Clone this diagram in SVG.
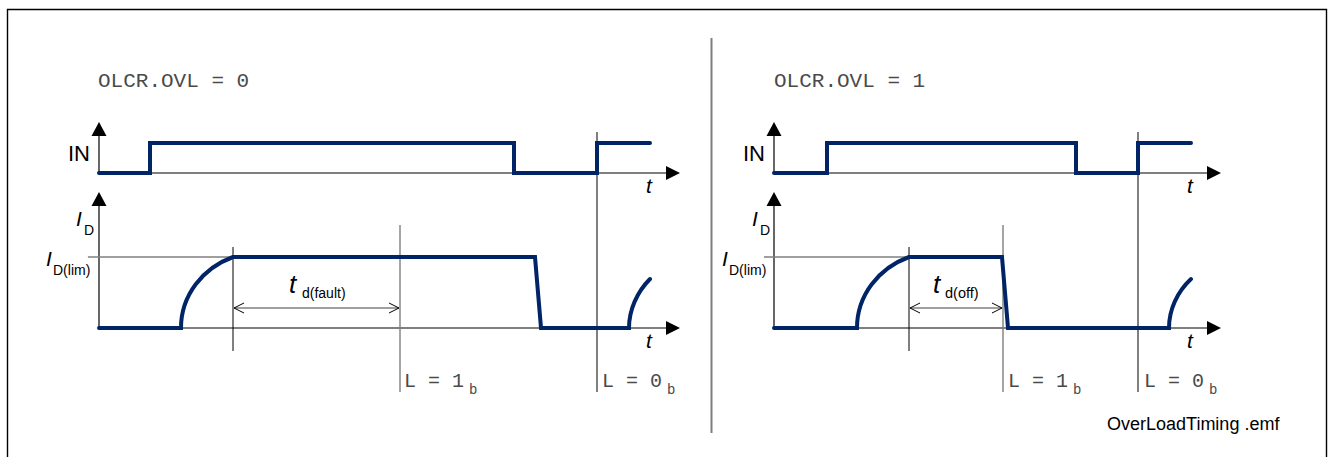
<svg xmlns="http://www.w3.org/2000/svg" width="1331" height="457" viewBox="0 0 1331 457">
<defs>
<style>
.frame{fill:none;stroke:#000;stroke-width:1.4}
.div{stroke:#7f7f7f;stroke-width:2}
.axis{stroke:#000;stroke-width:1.2;fill:none}
.head{fill:#000}
.sig{fill:none;stroke:#002466;stroke-width:4;stroke-linecap:round;stroke-linejoin:miter}
.lim{stroke:#7f7f7f;stroke-width:1.6}
.mk{stroke:#000;stroke-width:1}
.mkg{stroke:#7f7f7f;stroke-width:1.4}
.dim{stroke:#7f7f7f;stroke-width:1.6;fill:none}
.mono{font-family:"Liberation Mono",monospace;fill:#4a4a4a}
.sans{font-family:"Liberation Sans",Arial,sans-serif;fill:#000}
.it{font-style:italic}
</style>
<marker id="open" viewBox="0 0 12 12" refX="11" refY="6" markerWidth="12" markerHeight="12" markerUnits="userSpaceOnUse" orient="auto-start-reverse">
<path d="M1,1 L11,6 L1,11" fill="none" stroke="#000" stroke-width="1"/>
</marker>
</defs>
<rect width="1331" height="457" fill="#fff"/>
<path class="frame" d="M7.5,457 V9.5 H1326.5 V457"/>
<line class="div" x1="711.5" y1="38" x2="711.5" y2="433"/>

<g id="left-panel">
<g id="left-title"><text class="mono" x="98" y="87" font-size="21">OLCR.OVL = 0</text></g>
<g id="left-in-axis">
<line class="axis" x1="99" y1="173" x2="99" y2="134"/>
<path class="head" d="M99,122 L106.5,136 L91.5,136 Z"/>
<line class="axis" x1="99" y1="173" x2="668" y2="173"/>
<path class="head" d="M680,173 L666,166 L666,180 Z"/>
<text class="sans" x="68" y="161" font-size="22">IN</text>
<text class="sans it" x="646" y="193" font-size="21">t</text>
</g>
<g id="left-id-axis">
<line class="axis" x1="99" y1="328" x2="99" y2="204"/>
<path class="head" d="M99,192 L106.5,206 L91.5,206 Z"/>
<line class="axis" x1="99" y1="328" x2="668" y2="328"/>
<path class="head" d="M680,328 L666,321 L666,335 Z"/>
<text class="sans it" x="76" y="226" font-size="21">I</text>
<text class="sans" x="84" y="235" font-size="14">D</text>
<text class="sans it" x="46" y="266" font-size="21">I</text>
<text class="sans" x="53" y="275" font-size="14">D(lim)</text>
<text class="sans it" x="646" y="348" font-size="21">t</text>
</g>
<g id="left-lim"><line class="lim" x1="88" y1="257" x2="255" y2="257"/></g>
<g id="left-markers">
<line class="mk" x1="233" y1="247" x2="233" y2="351"/>
<line class="mkg" x1="400" y1="225" x2="400" y2="392"/>
<line class="mk" x1="597" y1="132" x2="597" y2="392"/>
</g>
<g id="left-dim">
<line class="dim" x1="234" y1="308" x2="399" y2="308" marker-start="url(#open)" marker-end="url(#open)"/>
<text class="sans it" x="289" y="293" font-size="26">t</text>
<text class="sans" x="302" y="298" font-size="14">d(fault)</text>
</g>
<g id="left-in-signal"><path class="sig" d="M99,173 H150 V143 H514 V173 H597 V143 H650"/></g>
<g id="left-id-signal"><path class="sig" d="M99,328 H181 C181,295 203,268 233,257 H535 L541,328 H629 C629,310 637,292 650,279"/></g>
<g id="left-labels">
<text class="mono" x="404" y="387" font-size="20">L = 1</text>
<text class="mono" x="469" y="394" font-size="14">b</text>
<text class="mono" x="602" y="387" font-size="20">L = 0</text>
<text class="mono" x="667" y="394" font-size="14">b</text>
</g>
</g>

<g id="right-panel">
<g id="right-title"><text class="mono" x="774" y="87" font-size="21">OLCR.OVL = 1</text></g>
<g id="right-in-axis">
<line class="axis" x1="774" y1="173" x2="774" y2="134"/>
<path class="head" d="M774,122 L781.5,136 L766.5,136 Z"/>
<line class="axis" x1="774" y1="173" x2="1209" y2="173"/>
<path class="head" d="M1221,173 L1207,166 L1207,180 Z"/>
<text class="sans" x="743" y="161" font-size="22">IN</text>
<text class="sans it" x="1187" y="193" font-size="21">t</text>
</g>
<g id="right-id-axis">
<line class="axis" x1="774" y1="328" x2="774" y2="204"/>
<path class="head" d="M774,192 L781.5,206 L766.5,206 Z"/>
<line class="axis" x1="774" y1="328" x2="1209" y2="328"/>
<path class="head" d="M1221,328 L1207,321 L1207,335 Z"/>
<text class="sans it" x="752" y="226" font-size="21">I</text>
<text class="sans" x="760" y="235" font-size="14">D</text>
<text class="sans it" x="722" y="266" font-size="21">I</text>
<text class="sans" x="729" y="275" font-size="14">D(lim)</text>
<text class="sans it" x="1187" y="348" font-size="21">t</text>
</g>
<g id="right-lim"><line class="lim" x1="764" y1="257" x2="930" y2="257"/></g>
<g id="right-markers">
<line class="mk" x1="909" y1="247" x2="909" y2="351"/>
<line class="mkg" x1="1003" y1="225" x2="1003" y2="392"/>
<line class="mk" x1="1138" y1="132" x2="1138" y2="392"/>
</g>
<g id="right-dim">
<line class="dim" x1="910" y1="308" x2="1002" y2="308" marker-start="url(#open)" marker-end="url(#open)"/>
<text class="sans it" x="933" y="293" font-size="26">t</text>
<text class="sans" x="945" y="298" font-size="14.5">d(off)</text>
</g>
<g id="right-in-signal"><path class="sig" d="M774,173 H827 V143 H1076 V173 H1138 V143 H1191"/></g>
<g id="right-id-signal"><path class="sig" d="M774,328 H857 C857,295 879,268 909,257 H1002 L1008,328 H1169 C1169,310 1177,292 1191,279"/></g>
<g id="right-labels">
<text class="mono" x="1008" y="387" font-size="20">L = 1</text>
<text class="mono" x="1073" y="394" font-size="14">b</text>
<text class="mono" x="1144" y="387" font-size="20">L = 0</text>
<text class="mono" x="1209" y="394" font-size="14">b</text>
</g>
</g>
<g id="caption"><text class="sans" x="1107" y="430" font-size="18">OverLoadTiming .emf</text></g>
</svg>
